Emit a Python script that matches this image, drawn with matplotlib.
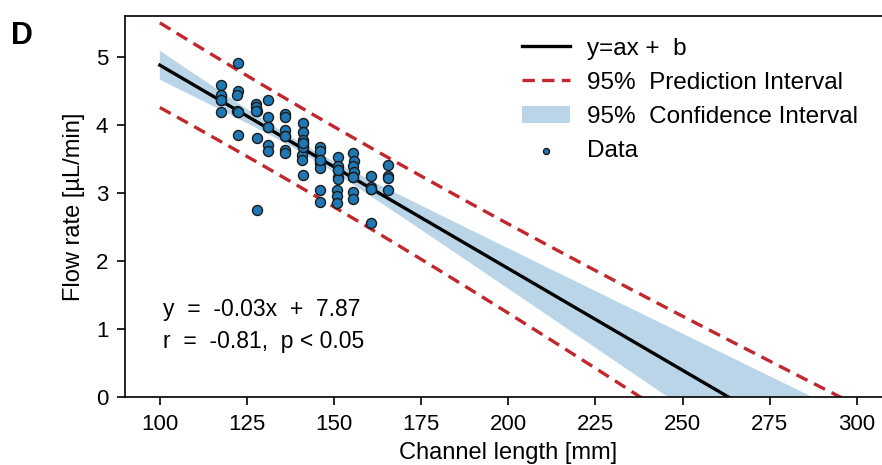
import numpy as np
import matplotlib
matplotlib.use("Agg")
import matplotlib.pyplot as plt

# channel length [mm] and flow rate [uL/min]
# (several markers sit on top of each other near the fit line)
length_mm = [
    117.5, 117.5, 117.5, 117.5, 117.5,
    122.5, 122.5, 122.0, 122.5, 122.0, 122.5, 122.5,
    127.5, 127.5, 128.0, 127.5, 128.0, 128.0,
    131.0, 131.0, 131.0, 131.0, 131.0, 131.0,
    136.0, 136.0, 136.0, 136.0, 136.0, 136.0, 136.0,
    141.0, 141.0, 141.0, 141.0, 141.0, 140.8, 140.8, 141.0, 141.0, 141.0,
    146.0, 146.0, 146.0, 146.0, 146.0, 146.0, 146.0, 146.0,
    151.0, 151.0, 151.0, 151.0, 151.0, 150.8, 150.8, 150.8, 151.0,
    155.5, 155.8, 155.5, 155.8, 155.5, 155.5, 155.5, 155.5,
    160.5, 160.5, 160.5, 160.5, 160.5,
    165.5, 165.5, 165.5, 165.5,
]
flow_rate = [
    4.59, 4.43, 4.36, 4.18, 4.36,
    4.90, 4.50, 4.44, 4.19, 4.20, 3.85, 4.19,
    4.30, 4.26, 4.20, 4.20, 3.81, 2.75,
    4.37, 4.11, 3.96, 3.70, 3.62, 3.96,
    4.16, 4.12, 3.93, 3.83, 3.63, 3.58, 3.83,
    4.02, 3.90, 3.78, 3.73, 3.68, 3.56, 3.48, 3.26, 3.68, 3.73,
    3.67, 3.61, 3.48, 3.44, 3.37, 3.04, 2.86, 3.48,
    3.53, 3.40, 3.33, 3.24, 3.20, 3.04, 2.95, 2.85, 3.33,
    3.59, 3.47, 3.39, 3.30, 3.23, 3.02, 2.91, 3.23,
    3.25, 3.09, 3.06, 2.56, 3.06,
    3.41, 3.25, 3.22, 3.04,
]
t_crit = 1.995  # t(0.975, n-2)

x = np.array(length_mm)
y = np.array(flow_rate)
n = len(x)
slope, intercept = np.polyfit(x, y, 1)
resid = y - (slope * x + intercept)
s = np.sqrt(np.sum(resid ** 2) / (n - 2))
sxx = np.sum((x - x.mean()) ** 2)

x_fit = np.linspace(100, 300, 300)
y_fit = slope * x_fit + intercept
ci = t_crit * s * np.sqrt(1 / n + (x_fit - x.mean()) ** 2 / sxx)
pi = t_crit * s * np.sqrt(1 + 1 / n + (x_fit - x.mean()) ** 2 / sxx)

plt.rcParams["font.family"] = ["Liberation Sans", "DejaVu Sans"]

fig = plt.figure(figsize=(8.82, 4.65), dpi=100)
ax = fig.add_axes([0.1417, 0.1456, 0.8693, 0.8206])

red = "#c1272d"
blue = "#1f77b4"

ax.fill_between(x_fit, y_fit - ci, y_fit + ci, color=blue, alpha=0.3, lw=0,
                label="95%  Confidence Interval", zorder=1)
ax.plot(x_fit, y_fit + pi, color=red, lw=2.4, dashes=(3.7, 2.2),
        label="95%  Prediction Interval", zorder=2)
ax.plot(x_fit, y_fit - pi, color=red, lw=2.4, dashes=(3.7, 2.2), zorder=2)
ax.plot(x_fit, y_fit, color="black", lw=2.4, label="y=ax +  b", zorder=3)
ax.scatter(x, y, s=52, color=blue, edgecolor="#1a1a1a", linewidth=1.0,
           label="Data", zorder=4)

ax.set_xlim(90, 310)
ax.set_ylim(0, 5.6)
ax.set_xticks(range(100, 301, 25))
ax.set_yticks(range(0, 6))
ax.tick_params(labelsize=16, length=6, width=1.2, direction="out", pad=6)
for side in ["left", "bottom", "top"]:
    ax.spines[side].set_linewidth(1.2)
ax.spines["right"].set_visible(False)

ax.set_xlabel("Channel length [mm]", fontsize=17, labelpad=5)
ax.set_ylabel("Flow rate [µL/min]", fontsize=17, labelpad=8)

handles, labels = ax.get_legend_handles_labels()
order = [2, 1, 0, 3]
ax.legend([handles[i] for i in order], [labels[i] for i in order],
          loc="upper right", bbox_to_anchor=(0.985, 1.0), frameon=False,
          fontsize=17.5, handlelength=2.0, labelspacing=0.5, markerscale=0.6,
          handletextpad=0.7)

ax.text(0.05, 0.213, "y  =  -0.03x  +  7.87", transform=ax.transAxes,
        fontsize=16.5, va="baseline")
ax.text(0.05, 0.129, "r  =  -0.81,  p < 0.05", transform=ax.transAxes,
        fontsize=16.5, va="baseline")

fig.text(0.012, 0.905, "D", fontsize=22, fontweight="bold", va="baseline")

fig.savefig("out.png", dpi=100)
